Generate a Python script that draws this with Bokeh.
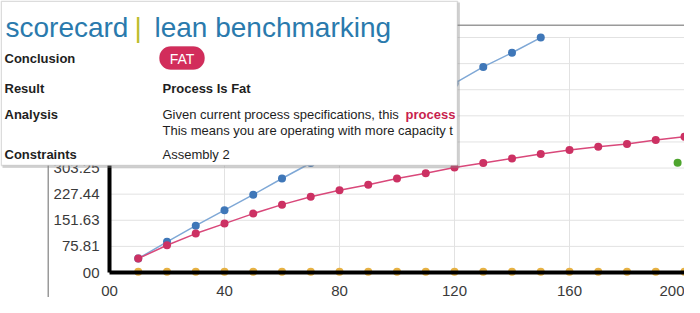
from bokeh.plotting import figure
from bokeh.models import Range1d, FixedTicker, BoxAnnotation, Label
from bokeh.embed import file_html
from bokeh.resources import INLINE

# ---------------- data ----------------
x_vals = [10, 20, 30, 40, 50, 60, 70, 80, 90, 100,
          110, 120, 130, 140, 150, 160, 170, 180, 190, 200]
red_vals = [40.6, 79, 113, 142, 171, 197, 220, 239, 255, 273,
            288, 305, 318, 331, 344, 356, 365, 373, 385, 394]
blue_x = [10, 20, 30, 40, 50, 60, 70, 80, 90, 100,
          110, 120, 130, 140, 150]
blue_vals = [40.6, 89, 136, 181, 226, 273, 318, 364, 410, 458,
             504, 549, 597, 638, 682]
yellow_vals = [2, 2, 2, 2, 2, 2, 2, 2, 2, 2,
               2, 2, 2, 2, 2, 2, 2, 2, 2, 2]
green_x = [197.6]
green_vals = [319]

x_min, x_max = 0, 200
y_min, y_max = 0, 682.31
y_ticks = [0, 75.81, 151.63, 227.44, 303.25, 379.06, 454.88, 530.69, 606.50, 682.31]
y_tick_labels = ["00", "75.81", "151.63", "227.44", "303.25", "", "", "", "", ""]
x_ticks = [0, 40, 80, 120, 160, 200]
x_tick_labels = ["00", "40", "80", "120", "160", "200"]

title_left = "scorecard"
title_sep = "|"
title_right = "lean benchmarking"
row_labels = ["Conclusion", "Result", "Analysis", "Constraints"]
conclusion = "FAT"
result_text = "Process Is Fat"
analysis_1 = "Given current process specifications, this"
analysis_hl = "process"
analysis_2 = "This means you are operating with more capacity t"
constraint_text = "Assembly 2"

# ---------------- geometry ----------------
W, H = 684, 297
PL, PT, PW, PH = 109, 37, 575, 235          # plot area in canvas px
PB = PT + PH
kx = PW / (x_max - x_min)
ky = PH / (y_max - y_min)
xr = Range1d(x_min - PL / kx, x_max + (W - PL - PW) / kx)
yr = Range1d(y_min - (H - PB) / ky, y_max + PT / ky)

p = figure(frame_width=W, frame_height=H,
           min_border_left=0, min_border_right=0,
           min_border_top=0, min_border_bottom=0,
           x_range=xr, y_range=yr,
           output_backend="svg", toolbar_location=None,
           background_fill_color="white", border_fill_color="white")
p.outline_line_color = None
p.grid.visible = False

# grid lines, limited to the plot area
p.segment(x0=x_ticks, y0=[y_min] * len(x_ticks), x1=x_ticks, y1=[y_max] * len(x_ticks),
          line_color="#e2e2e2", line_width=1)
p.segment(x0=[x_min] * len(y_ticks), y0=y_ticks, x1=[x_max] * len(y_ticks), y1=y_ticks,
          line_color="#e2e2e2", line_width=1)

for ax, ticks, labels, bnds, so in ((p.xaxis[0], x_ticks, x_tick_labels, (x_min, x_max), 7),
                                    (p.yaxis[0], y_ticks, y_tick_labels, (y_min, y_max), 4)):
    ax.fixed_location = 0
    ax.bounds = bnds
    ax.ticker = FixedTicker(ticks=ticks)
    ax.major_label_overrides = {t: l for t, l in zip(ticks, labels)}
    ax.axis_line_color = "black"
    ax.axis_line_width = 4
    ax.major_tick_line_color = None
    ax.minor_tick_line_color = None
    ax.major_label_text_font = "Liberation Sans"
    ax.major_label_text_font_size = "15px"
    ax.major_label_text_color = "#3a3a3a"
    ax.major_label_standoff = so

# series
p.line(x_vals, yellow_vals, line_color="#e8b24a", line_width=1.5)
p.scatter(x_vals, yellow_vals, size=8, fill_color="#e6b143", line_color=None)
p.line(blue_x, blue_vals, line_color="#7fa8d6", line_width=1.5)
p.scatter(blue_x, blue_vals, size=8, fill_color="#3f77b8", line_color=None)
p.line(x_vals, red_vals, line_color="#d9487a", line_width=1.5)
p.scatter(x_vals, red_vals, size=8, fill_color="#cc3163", line_color=None)
p.scatter(green_x, green_vals, size=8, fill_color="#4ea52e", line_color=None)

# ---------------- overlays (screen units; frame == canvas) ----------------
def sx(cx):
    return cx

def sy(cy):
    return H - cy

def box(l, t, r, b, **kw):
    bx = BoxAnnotation(left=sx(l), right=sx(r), top=sy(t), bottom=sy(b),
                       left_units="screen", right_units="screen",
                       top_units="screen", bottom_units="screen", **kw)
    p.add_layout(bx)
    return bx

def label(cx, cy, text, size, color="#1e1e1e", style="normal", align="left", baseline="alphabetic"):
    lb = Label(x=sx(cx), y=sy(cy), x_units="screen", y_units="screen", text=text,
               text_font="Liberation Sans", text_font_size=f"{size}px",
               text_color=color, text_font_style=style,
               text_align=align, text_baseline=baseline)
    p.add_layout(lb)
    return lb

# chart container outline (top and left edges; the others are outside the view)
box(47, 24, 684, 25.5, fill_color="#9a9a9a", fill_alpha=1, line_color=None)
box(47, 24, 48.5, 297, fill_color="#9a9a9a", fill_alpha=1, line_color=None)

# panel shadow and panel
box(2, 2, 459.5, 167.5, fill_color="#888888", fill_alpha=0.35, line_color=None)
box(0.75, 0.75, 457, 165, fill_color="white", fill_alpha=1, line_color="#8c8c8c", line_width=1.5)

label(5, 27, title_left, 28, color="#2a7aad")
label(134, 27, title_sep, 28, color="#bdbd2c")
label(154, 27, title_right, 28, color="#2a7aad")

for txt, base in zip(row_labels, [57.5, 87.5, 114.3, 153.5]):
    label(4, base, txt, 13, style="bold")

# pill
box(159, 46, 204, 69, fill_color="#d22d5b", fill_alpha=1, line_color="#b81e48",
    line_width=1, border_radius=11)
label(181.5, 58, conclusion, 14, color="white", align="center", baseline="middle")

label(162, 87.5, result_text, 13, style="bold")
label(162, 114.3, analysis_1, 13)
label(405, 114.3, analysis_hl, 13, color="#c81f4e", style="bold")
label(162, 129.5, analysis_2, 13)
label(162, 153.5, constraint_text, 13)

open("out.html", "w").write(file_html(p, INLINE))
